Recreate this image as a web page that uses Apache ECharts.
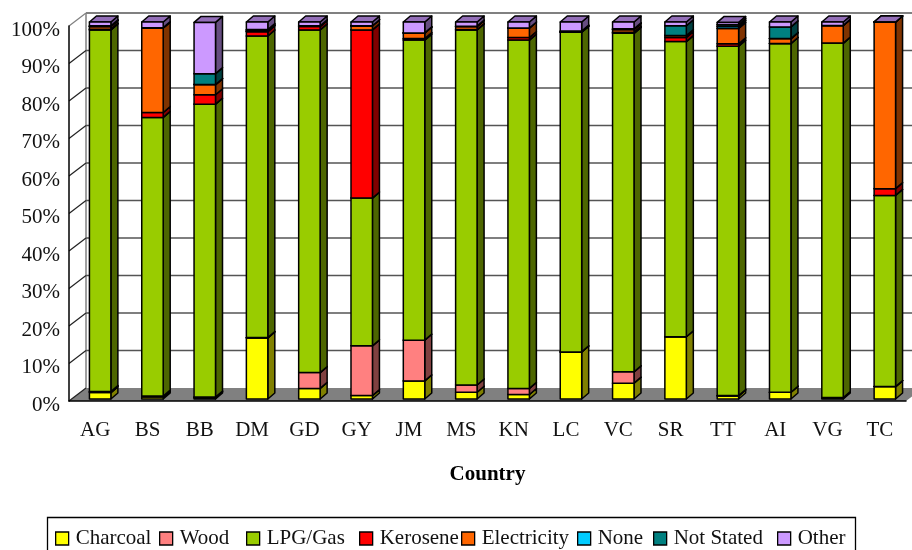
<!DOCTYPE html>
<html>
<head>
<meta charset="utf-8">
<style>html,body{margin:0;padding:0;background:#fff;overflow:hidden}#main{width:912px;height:550px}</style>
<script src="https://cdn.jsdelivr.net/npm/echarts@6/dist/echarts.min.js"></script>
</head>
<body>
<div id="main"></div>
<script>
const countries = ['AG','BS','BB','DM','GD','GY','JM','MS','KN','LC','VC','SR','TT','AI','VG','TC'];
const charcoal   = [1.7, 0.5, 0.3, 16.2, 2.8, 0.9, 4.8, 1.8, 1.2, 12.5, 4.2, 16.5, 0.8, 1.8, 0.2, 3.3];
const wood       = [0.3, 0.3, 0.2, 0.1, 4.2, 13.2, 10.8, 1.9, 1.6, 0, 3.0, 0, 0.1, 0, 0.2, 0];
const lpgGas     = [95.9, 73.9, 77.7, 80.0, 90.9, 39.2, 79.6, 94.2, 92.4, 84.8, 89.8, 78.3, 92.7, 92.5, 94.0, 50.7];
const kerosene   = [0.2, 1.3, 2.5, 1.1, 0.9, 44.6, 0.4, 0.1, 0.7, 0, 0.3, 1.1, 0.6, 0, 0, 1.8];
const electricity= [0.7, 22.4, 2.7, 0.2, 0.1, 1.1, 1.5, 0.8, 2.5, 0.1, 0.7, 0.5, 4.1, 1.3, 4.7, 44.2];
const none       = [0, 0, 0, 0, 0, 0, 0, 0, 0, 0, 0, 0, 0.5, 0, 0, 0];
const notStated  = [0.2, 0.1, 2.9, 0.4, 0.1, 0, 0, 0.1, 0, 0.2, 0.2, 2.6, 0.5, 3.1, 0, 0];
const other      = [1.0, 1.5, 13.6, 2.0, 1.0, 1.0, 2.9, 1.1, 1.6, 2.4, 1.8, 1.0, 0.6, 1.3, 0.9, 0];
const yTicks = [0, 10, 20, 30, 40, 50, 60, 70, 80, 90, 100];

const fuelNames = ['Charcoal','Wood','LPG/Gas','Kerosene','Electricity','None','Not Stated','Other'];
const fuelValues = [charcoal, wood, lpgGas, kerosene, electricity, none, notStated, other];
const fuelColors = ['#FFFF00','#FF8080','#99CC00','#FF0000','#FF6600','#00CCFF','#008080','#CC99FF'];
const legendLefts = [55, 159, 246, 359, 461, 577, 653, 777];

const serif = '"Liberation Serif", serif';
const wallDx = 17, wallDy = -13;   // depth of the chart box
const barDx = 7, barDy = -6;       // depth of each column

function shade(hex, k) {
    const n = parseInt(hex.slice(1), 16);
    const c = [n >> 16, (n >> 8) & 255, n & 255].map(v => Math.round(v * k));
    return 'rgb(' + c.join(',') + ')';
}

// back wall, side wall and floor, placed from the axis scale
function renderWall(params, api) {
    const v = api.value(0);
    const box = params.coordSys;
    const y = api.coord([0, v])[1];
    const left = box.x, right = box.x + box.width;
    const kids = [];
    if (v === 0) {
        kids.push({
            type: 'polygon',
            shape: { points: [[left, y], [left + wallDx, y + wallDy], [right + wallDx, y + wallDy], [right, y]] },
            style: { fill: '#808080' }
        });
        kids.push({
            type: 'line',
            shape: { x1: left + wallDx, y1: y + wallDy, x2: left + wallDx, y2: box.y + wallDy },
            style: { stroke: '#808080', lineWidth: 1.5 }
        });
    } else {
        kids.push({
            type: 'line',
            shape: { x1: left + wallDx, y1: y + wallDy, x2: right + wallDx, y2: y + wallDy },
            style: { stroke: v === 100 ? '#808080' : '#555', lineWidth: v === 100 ? 2 : 1.3 }
        });
    }
    kids.push({
        type: 'line',
        shape: { x1: left, y1: y, x2: left + wallDx, y2: y + wallDy },
        style: { stroke: v === 100 ? '#808080' : '#222', lineWidth: 1.2 }
    });
    return { type: 'group', children: kids };
}

function renderSegment(params, api) {
    const lo = api.coord([api.value(0), api.value(1)]);
    const hi = api.coord([api.value(0), api.value(2)]);
    const w = api.size([1, 0])[0] * 0.41;
    const x0 = lo[0] - w / 2, x1 = lo[0] + w / 2;
    const color = fuelColors[params.seriesIndex - 1];
    const line = { stroke: '#000', lineWidth: 1.5, lineJoin: 'round' };
    return {
        type: 'group',
        children: [{
            type: 'polygon',
            shape: { points: [[x1, lo[1]], [x1 + barDx, lo[1] + barDy], [x1 + barDx, hi[1] + barDy], [x1, hi[1]]] },
            style: Object.assign({ fill: shade(color, 0.5) }, line)
        }, {
            type: 'polygon',
            shape: { points: [[x0, hi[1]], [x0 + barDx, hi[1] + barDy], [x1 + barDx, hi[1] + barDy], [x1, hi[1]]] },
            style: Object.assign({ fill: shade(color, 0.72) }, line)
        }, {
            type: 'rect',
            shape: { x: x0, y: hi[1], width: w, height: lo[1] - hi[1] },
            style: Object.assign({ fill: color }, line)
        }]
    };
}

const running = countries.map(() => 0);
const fuelSeries = fuelNames.map((name, i) => ({
    name: name,
    type: 'custom',
    xAxisIndex: 1,
    yAxisIndex: 1,
    z: 3,
    itemStyle: { color: fuelColors[i] },
    renderItem: renderSegment,
    encode: { x: 0, y: [1, 2] },
    data: countries.map((c, k) => {
        const base = running[k];
        running[k] = base + fuelValues[i][k];
        return [k, base, running[k]];
    })
}));

// one legend per fuel so each entry sits where the reference has it
const legends = fuelNames.map((name, i) => ({
    left: legendLefts[i],
    top: 528,
    data: [name],
    icon: 'rect',
    itemWidth: 13,
    itemHeight: 13,
    padding: 0,
    itemStyle: { borderColor: '#000', borderWidth: 1.3 },
    formatter: n => '{t|' + n + '}',
    textStyle: {
        fontFamily: serif, fontSize: 21, color: '#111',
        rich: { t: { padding: [0, 0, 0, 2], fontFamily: serif, fontSize: 21, color: '#111' } }
    }
}));

const chart = echarts.init(document.getElementById('main'));
chart.setOption({
    animation: false,
    backgroundColor: '#fff',
    textStyle: { fontFamily: serif, color: '#000' },
    grid: [
        { left: 69, top: 26, width: 837, height: 375 },
        { left: 74, top: 22, width: 837, height: 377 }
    ],
    xAxis: [{
        type: 'category',
        data: countries,
        z: 1,
        name: 'Country',
        nameLocation: 'middle',
        nameGap: 63,
        nameTextStyle: { fontFamily: serif, fontSize: 21, fontWeight: 'bold', color: '#000' },
        axisLine: { lineStyle: { color: '#000', width: 1.5 } },
        axisTick: { length: 6, lineStyle: { color: '#333', width: 1 } },
        axisLabel: { fontFamily: serif, fontSize: 21, color: '#111', margin: 19 }
    }, {
        type: 'category',
        gridIndex: 1,
        data: countries,
        show: false
    }],
    yAxis: [{
        type: 'value',
        min: 0,
        max: 100,
        interval: 10,
        z: 1,
        splitLine: { show: false },
        axisLine: { show: true, lineStyle: { color: '#000', width: 1.5 } },
        axisTick: { show: false },
        axisLabel: { fontFamily: serif, fontSize: 21, color: '#111', margin: 9, verticalAlign: 'top', lineHeight: 8, formatter: '{value}%' }
    }, {
        type: 'value',
        gridIndex: 1,
        min: 0,
        max: 100,
        show: false
    }],
    legend: legends,
    graphic: [{
        type: 'rect',
        shape: { x: 47.5, y: 517.5, width: 808, height: 44 },
        style: { fill: 'none', stroke: '#000', lineWidth: 1.3 }
    }],
    series: [{
        type: 'custom',
        silent: true,
        z: 0,
        renderItem: renderWall,
        encode: { y: 0 },
        data: yTicks.map(v => [v])
    }].concat(fuelSeries)
});
</script>
</body>
</html>
